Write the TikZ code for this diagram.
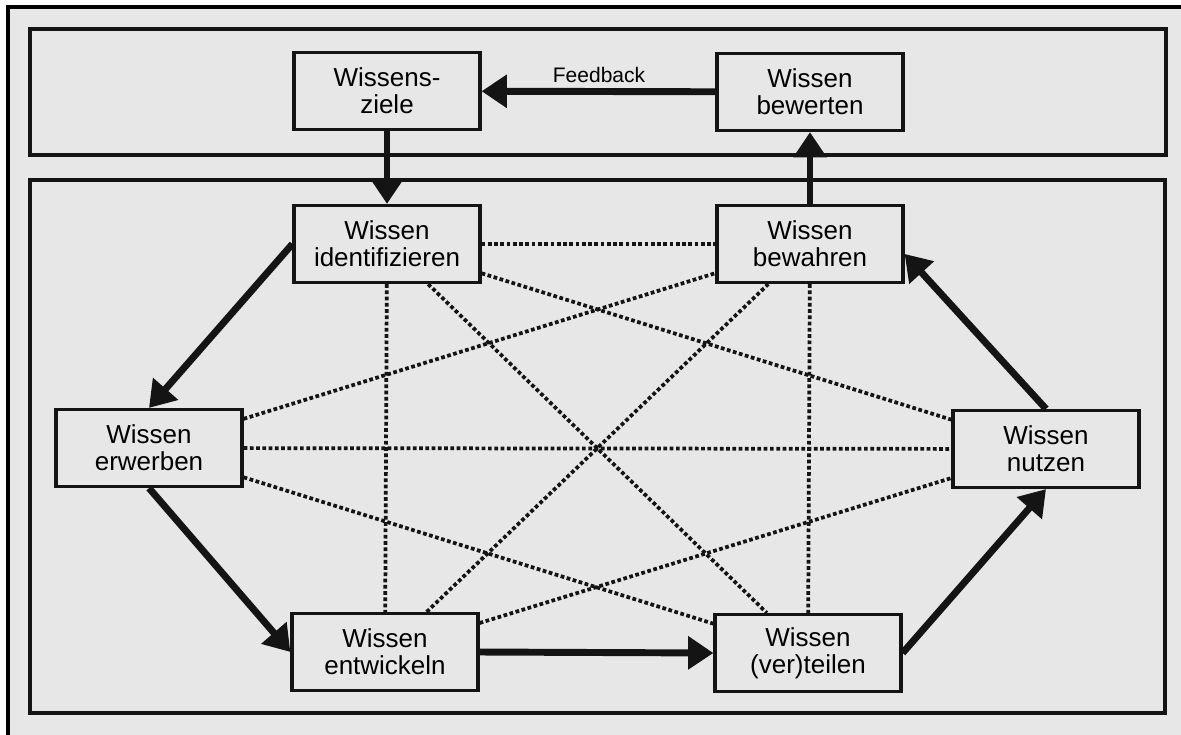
\documentclass[tikz,border=0pt]{standalone}
\usepackage{fontspec}
\setmainfont{Liberation Sans}
\usetikzlibrary{arrows.meta}

\tikzset{every picture/.style={line width=0.75pt}}
\tikzset{
  wbox/.style={draw={rgb, 255:red, 20; green, 20; blue, 20 }, line width=2.4pt, minimum width=139.5pt, minimum height=57.75pt, inner sep=0pt, align=center, font=\fontsize{19.5}{20.5}\selectfont},
  flow/.style={draw={rgb, 255:red, 20; green, 20; blue, 20 }, line width=5.2pt, -{Triangle[length=19pt,width=24pt]}},
  link/.style={draw={rgb, 255:red, 20; green, 20; blue, 20 }, line width=2.8pt, dash pattern=on 2.8pt off 1.9pt},
  frame/.style={draw={rgb, 255:red, 20; green, 20; blue, 20 }, line width=2.4pt}
}

\begin{document}
\begin{tikzpicture}[x=0.75pt,y=0.75pt,yscale=-1,xscale=1]
\useasboundingbox (0,0) rectangle (1181,735);
\clip (0,0) rectangle (1181,735);

%Shape: Background
\fill [color={rgb, 255:red, 231; green, 231; blue, 231 }] (8,7) rectangle (1200,760);
\draw [line width=2.5pt] (1200,7) -- (8,7) -- (8,760);

%Shape: Rectangle
\draw [frame] (30,29) rectangle (1166,155);
%Shape: Rectangle
\draw [frame] (30,180) rectangle (1165,713);

% Text Node
\node [wbox] (ziele) at (387,91) {Wissens-\\ziele};
% Text Node
\node [wbox] (bewerten) at (810,92) {Wissen\\bewerten};
% Text Node
\node [wbox] (ident) at (387,244) {Wissen\\identifizieren};
% Text Node
\node [wbox] (bewahren) at (810,244) {Wissen\\bewahren};
% Text Node
\node [wbox] (erwerben) at (149,448) {Wissen\\erwerben};
% Text Node
\node [wbox] (nutzen) at (1046,449) {Wissen\\nutzen};
% Text Node
\node [wbox] (entwickeln) at (385,652) {Wissen\\entwickeln};
% Text Node
\node [wbox] (verteilen) at (808,653) {Wissen\\(ver)teilen};
% Text Node
\node [inner sep=0.75pt, font=\fontsize{15.75}{17}\selectfont] (fb) at (599,75) {Feedback};

%Dotted Lines
\draw [link] (ident) -- (bewahren);
\draw [link] (ident) -- (entwickeln);
\draw [link] (ident) -- (nutzen);
\draw [link] (ident) -- (verteilen);
\draw [link] (erwerben) -- (bewahren);
\draw [link] (erwerben) -- (nutzen);
\draw [link] (erwerben) -- (verteilen);
\draw [link] (entwickeln) -- (bewahren);
\draw [link] (entwickeln) -- (nutzen);
\draw [link] (bewahren) -- (verteilen);

%Straight Lines
\draw [flow] (bewerten) -- (ziele);
\draw [flow] (ziele) -- (ident);
\draw [flow] (ident.west) -- (erwerben.north);
\draw [flow] (erwerben.south) -- (entwickeln.west);
\draw [flow] (entwickeln.east) -- (verteilen.west);
\draw [flow] (verteilen.east) -- (nutzen.south);
\draw [flow] (nutzen.north) -- (bewahren.-6);
\draw [flow] (bewahren) -- (bewerten);

\end{tikzpicture}
\end{document}
